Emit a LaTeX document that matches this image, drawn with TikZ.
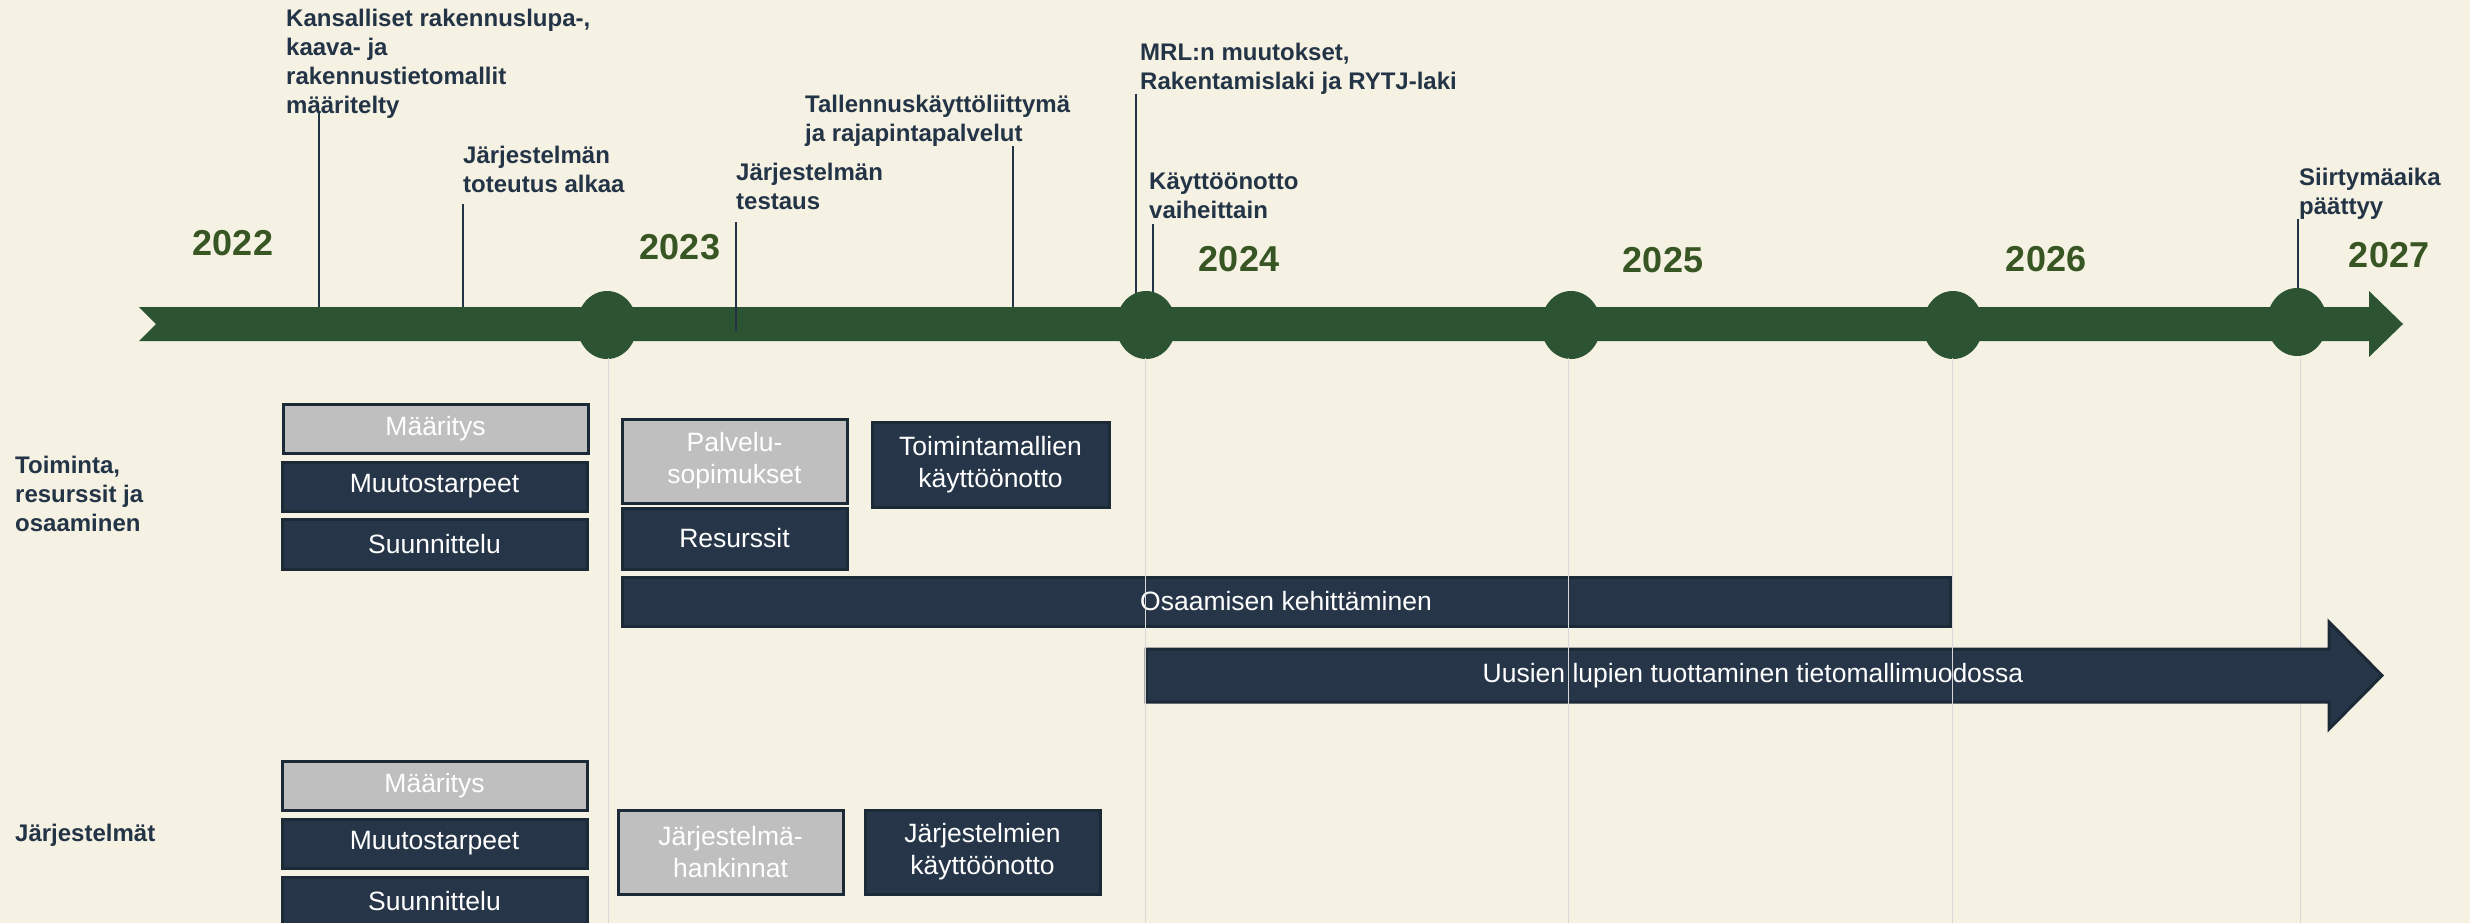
\documentclass[tikz,border=0pt]{standalone}
\usepackage{fontspec}
\setmainfont{Liberation Sans}
\usetikzlibrary{shapes.geometric}
\definecolor{bg}{HTML}{F5F1E3}
\definecolor{bargreen}{HTML}{2C5433}
\definecolor{yeargreen}{HTML}{375623}
\definecolor{navy}{HTML}{263648}
\definecolor{navyedge}{HTML}{1C2A38}
\definecolor{labc}{HTML}{243447}
\definecolor{greybox}{HTML}{BFBFBF}
\definecolor{gridc}{HTML}{D8D8D8}
\begin{document}
\begin{tikzpicture}[x=1pt,y=-1pt,
  lab/.style={anchor=north west, inner sep=0pt, align=left, text=labc, font=\bfseries\fontsize{24}{29}\selectfont},
  yr/.style={inner sep=0pt, text=yeargreen, font=\bfseries\fontsize{36}{40}\selectfont},
  marker/.style={draw=labc, line width=2pt},
  milestone/.style={ellipse, fill=bargreen, minimum width=60pt, minimum height=68pt, inner sep=0pt},
  gridline/.style={draw=gridc, line width=1pt},
  boxbase/.style={rectangle, inner sep=0pt, align=center, text=white, line width=3pt, draw=navyedge, font=\fontsize{26.5}{32}\selectfont},
  darkbox/.style={boxbase, fill=navy},
  greybx/.style={boxbase, fill=greybox},
]
\useasboundingbox (0,0) rectangle (2470,923);
\fill[bg] (0,0) rectangle (2470,923);

% timeline bar
\fill[bargreen] (139,307) -- (2369,307) -- (2369,291) -- (2403,324) -- (2369,357) -- (2369,341) -- (139,341) -- (156,324) -- cycle;

% top labels
\node[lab] (l1) at (286,9) {Kansalliset rakennuslupa-,\\kaava- ja\\rakennustietomallit\\määritelty};
\node[lab] (l2) at (463,146) {Järjestelmän\\toteutus alkaa};
\node[lab] (l3) at (736,163) {Järjestelmän\\testaus};
\node[lab] (l4) at (805,95) {Tallennuskäyttöliittymä\\ja rajapintapalvelut};
\node[lab] (l5) at (1140,43) {MRL:n muutokset,\\Rakentamislaki ja RYTJ-laki};
\node[lab] (l6) at (1149,173) {Käyttöönotto\\vaiheittain};
\node[lab] (l7) at (2299,168) {Siirtymäaika\\päättyy};

% marker lines
\coordinate (m1a) at (319,112); \coordinate (m1b) at (319,307);
\coordinate (m2a) at (463,204); \coordinate (m2b) at (463,307);
\coordinate (m3a) at (736,222); \coordinate (m3b) at (736,331);
\coordinate (m4a) at (1013,146); \coordinate (m4b) at (1013,307);
\coordinate (m5a) at (1136,94); \coordinate (m5b) at (1136,296);
\coordinate (m6a) at (1153,224); \coordinate (m6b) at (1153,296);
\coordinate (m7a) at (2298,219); \coordinate (m7b) at (2298,292);
\foreach \i in {1,...,7} {\draw[marker] (m\i a) -- (m\i b);}

% milestones
\node[milestone] (c1) at (607,325) {};
\node[milestone] (c2) at (1146,325) {};
\node[milestone] (c3) at (1571,325) {};
\node[milestone] (c4) at (1953,325) {};
\node[milestone] (c5) at (2297,322) {};

% years
\node[yr] (y22) at (233,243) {2022};
\node[yr] (y23) at (680,247) {2023};
\node[yr] (y24) at (1239,259) {2024};
\node[yr] (y25) at (1663,260) {2025};
\node[yr] (y26) at (2046,259) {2026};
\node[yr] (y27) at (2389,255) {2027};

% row labels
\node[lab] (r1) at (15,456) {Toiminta,\\resurssit ja\\osaaminen};
\node[lab] (r2) at (15,824) {Järjestelmät};

% grid line behind the arrow head
\draw[gridline] (2300,358) -- (2300,923);

% Toiminta boxes
\node[greybx, minimum width=305pt, minimum height=49pt] (tmaa) at (435.5,428.5) {Määritys};
\node[darkbox, minimum width=305pt, minimum height=49pt] (tmuu) at (434.5,486.5) {Muutostarpeet};
\node[darkbox, minimum width=305pt, minimum height=50pt] (tsuu) at (434.5,544) {Suunnittelu};
\node[greybx, minimum width=225pt, minimum height=84pt] (tpal) at (734.5,461) {Palvelu-\\sopimukset};
\node[darkbox, minimum width=237pt, minimum height=85pt] (ttoi) at (990.5,464.5) {Toimintamallien\\käyttöönotto};
\node[darkbox, minimum width=225pt, minimum height=61pt] (tres) at (734.5,538.5) {Resurssit};
\node[darkbox, minimum width=1328pt, minimum height=49pt] (tosa) at (1286,601.5) {Osaamisen kehittäminen};

% Uusien arrow
\fill[navy, draw=navyedge, line width=3pt] (1146,649) -- (2329,649) -- (2329,622) -- (2382,675.5) -- (2329,729) -- (2329,702) -- (1146,702) -- cycle;
\node[text=white, inner sep=0pt, font=\fontsize{26.5}{32}\selectfont] (uus) at (1753,676) {Uusien lupien tuottaminen tietomallimuodossa};

% Järjestelmät boxes
\node[greybx, minimum width=305pt, minimum height=49pt] (jmaa) at (434.5,785.5) {Määritys};
\node[darkbox, minimum width=305pt, minimum height=49pt] (jmuu) at (434.5,843.5) {Muutostarpeet};
\node[darkbox, minimum width=305pt, minimum height=49pt] (jsuu) at (434.5,901.5) {Suunnittelu};
\node[greybx, minimum width=225pt, minimum height=84pt] (jhan) at (730.5,852) {Järjestelmä-\\hankinnat};
\node[darkbox, minimum width=235pt, minimum height=84pt] (jkay) at (982.5,852) {Järjestelmien\\käyttöönotto};

% grid lines
\foreach \xx in {608,1145,1568,1952} {
  \draw[gridline] (\xx,358) -- (\xx,923);
}
\end{tikzpicture}
\end{document}
